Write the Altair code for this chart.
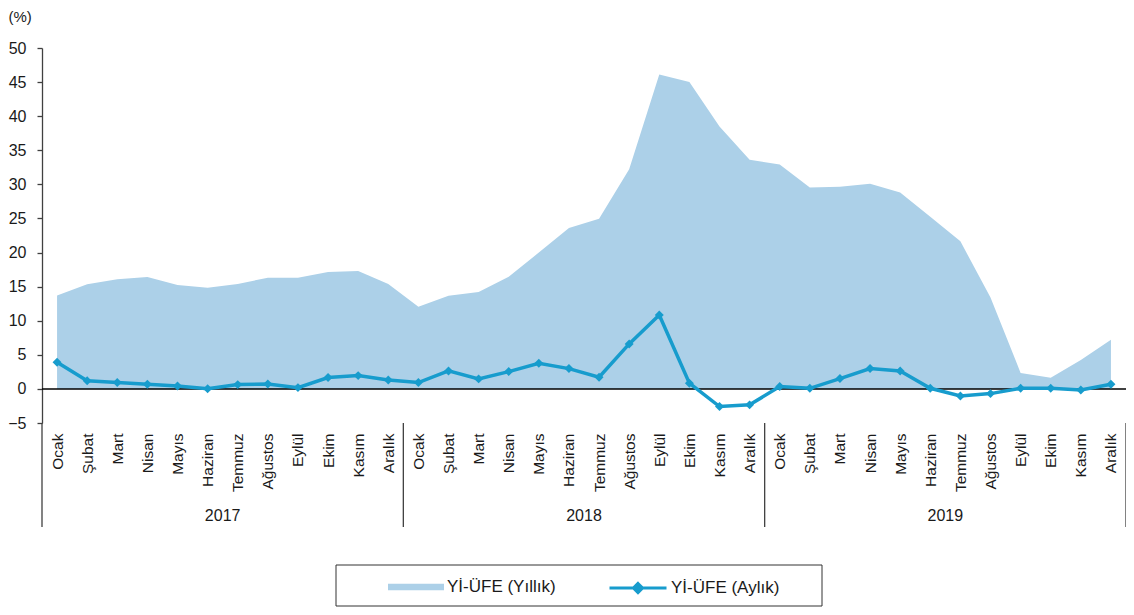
import altair as alt
import pandas as pd

months = ["Ocak", "Şubat", "Mart", "Nisan", "Mayıs", "Haziran", "Temmuz",
          "Ağustos", "Eylül", "Ekim", "Kasım", "Aralık"]
years = ["2017", "2018", "2019"]
series_names = ["Yİ-ÜFE (Yıllık)", "Yİ-ÜFE (Aylık)"]

yearly = [13.7, 15.35, 16.1, 16.4, 15.25, 14.85, 15.4, 16.3, 16.3, 17.15, 17.3, 15.4,
          12.05, 13.67, 14.2, 16.45, 20.0, 23.6, 24.95, 32.2, 46.1, 45.0, 38.5, 33.6,
          32.9, 29.55, 29.65, 30.1, 28.8, 25.25, 21.65, 13.4, 2.35, 1.65, 4.25, 7.2]
monthly = [3.9, 1.2, 0.93, 0.69, 0.44, 0.02, 0.63, 0.73, 0.19, 1.66, 1.95, 1.32,
           0.93, 2.64, 1.47, 2.54, 3.77, 2.98, 1.71, 6.6, 10.85, 0.84, -2.59, -2.34,
           0.35, 0.09, 1.52, 2.98, 2.64, 0.09, -1.03, -0.69, 0.09, 0.09, -0.15, 0.69]

FONT = "Liberation Sans"
AREA_C = "#acd0e8"
LINE_C = "#179ccd"
TXT = "#1a1a1a"
AX = "#404040"

W, H = 1084, 375
TOTAL_H = 599
n = len(yearly)
idx = list(range(n))

df_area = pd.DataFrame({"i": idx, "v": yearly, "s": series_names[0]})
df_line = pd.DataFrame({"i": idx, "v": monthly, "s": series_names[1]})
df_years = pd.DataFrame({"year": years, "i": [k * 12 + 5.5 for k in range(len(years))]})
df_sep = pd.DataFrame({"i": [k * 12 - 0.5 for k in range(len(years) + 1)]})
df_zero = pd.DataFrame({"v": [0]})

xscale = alt.Scale(domain=[-0.5, n - 0.5], nice=False, zero=False)
yscale = alt.Scale(domain=[-5, 50], nice=False)

month_js = "[" + ",".join("'" + m + "'" for m in months) + "][datum.value % 12]"

xaxis = alt.Axis(values=idx, labelExpr=month_js, labelAngle=270,
                 domain=False, ticks=False, tickSize=0, grid=False,
                 labelPadding=10, labelFont=FONT, labelFontSize=15.5,
                 labelColor=TXT, title=None, labelOverlap=False)
yaxis = alt.Axis(values=list(range(-5, 51, 5)), grid=False,
                 domainColor=AX, domainWidth=1.3, tickColor=AX,
                 tickWidth=1.3, tickSize=5, labelPadding=11,
                 labelFont=FONT, labelFontSize=16, labelColor=TXT,
                 title="(%)", titleAngle=0, titleAlign="left",
                 titleBaseline="top", titleX=-34, titleY=-39,
                 titleFont=FONT, titleFontSize=15,
                 titleFontWeight="normal", titleColor=TXT)

X = alt.X("i:Q", scale=xscale, axis=xaxis)
Y = alt.Y("v:Q", scale=yscale, axis=yaxis)

area = alt.Chart(df_area).mark_area(color=AREA_C, opacity=1).encode(
    x=X, y=Y,
    fill=alt.Fill("s:N", scale=alt.Scale(domain=[series_names[0]], range=[AREA_C]),
                  legend=alt.Legend(orient="none", legendX=346, legendY=511,
                                    title=None, symbolType="M-1,-0.12H1V0.12H-1Z",
                                    symbolSize=3136, symbolStrokeWidth=0,
                                    labelOffset=3, labelFont=FONT,
                                    labelFontSize=17, labelColor=TXT)),
)

zero = alt.Chart(df_zero).mark_rule(color="black", strokeWidth=1.5).encode(y=Y)

line = alt.Chart(df_line).mark_line(
    strokeWidth=3.5,
    point=alt.OverlayMarkDef(shape="diamond", size=80, filled=True, opacity=1),
).encode(
    x=X, y=Y,
    color=alt.Color("s:N", scale=alt.Scale(domain=[series_names[1]], range=[LINE_C]),
                    legend=alt.Legend(orient="none", legendX=566, legendY=510,
                                      title=None,
                                      symbolType="M-1,0H1M0,-0.16L0.16,0L0,0.16L-0.16,0Z",
                                      symbolSize=3249, symbolStrokeWidth=3,
                                      symbolFillColor=LINE_C,
                                      labelOffset=3, labelFont=FONT,
                                      labelFontSize=17, labelColor=TXT)),
)

seps = alt.Chart(df_sep).mark_rule(color=AX, strokeWidth=1.3).encode(
    x=X,
    y=alt.value(H),
    y2=alt.value(479),
)

year_text = alt.Chart(df_years).mark_text(
    font=FONT, fontSize=16, color=TXT, baseline="middle", align="center"
).encode(
    x=X,
    y=alt.value(468),
    text="year:N",
)

box = alt.Chart(pd.DataFrame({"k": [0]})).mark_rect(
    fillOpacity=0, stroke="#333333", strokeWidth=1
).encode(
    x=alt.value(294), x2=alt.value(780), y=alt.value(517), y2=alt.value(TOTAL_H - 40 - 1)
)

chart = alt.layer(area, zero, line, seps, year_text, box).resolve_scale(
    color="independent", fill="independent"
).properties(
    width=W, height=H,
    autosize=alt.AutoSizeParams(type="none"),
    padding={"left": 34, "top": 40, "right": 0, "bottom": TOTAL_H - 40 - H},
).configure_view(stroke=None)

chart.save("out.html", embed_options={"renderer": "svg", "actions": False})
